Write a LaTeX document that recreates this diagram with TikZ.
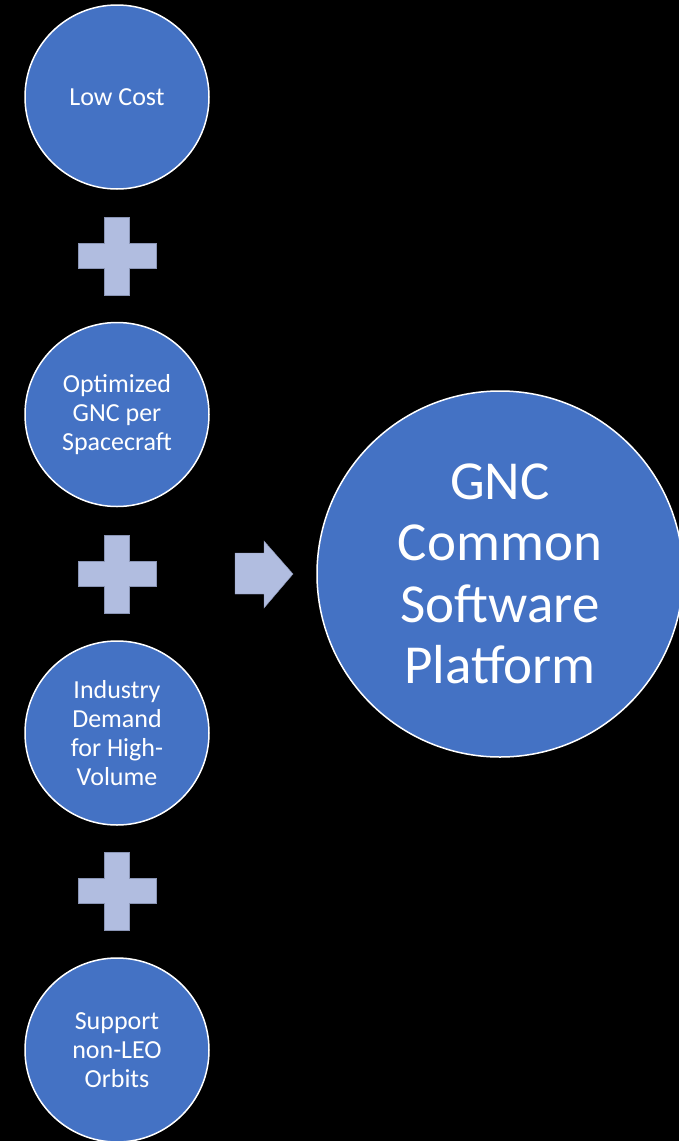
\documentclass[tikz,border=0pt]{standalone}
\usepackage{fontspec}
\setmainfont{Carlito}
\definecolor{circblue}{HTML}{4472C4}
\definecolor{signblue}{HTML}{B1BDE0}
\definecolor{signedge}{HTML}{8A95B5}
\tikzset{
  smallcirc/.style={circle, draw=white, line width=1.5pt, fill=circblue,
    minimum size=184pt, inner sep=0pt, text=white, align=center,
    font=\fontsize{26}{29}\selectfont},
  bigcirc/.style={circle, draw=white, line width=1.5pt, fill=circblue,
    minimum size=366pt, inner sep=0pt, text=white, align=center,
    font=\fontsize{55}{61.5}\selectfont},
  signshape/.style={fill=signblue, draw=signedge, line width=0.4pt},
  plussign/.pic={
    \path[signshape] (-12.5,-39) -- (12.5,-39) -- (12.5,-12.5) -- (39,-12.5)
      -- (39,12.5) -- (12.5,12.5) -- (12.5,39) -- (-12.5,39) -- (-12.5,12.5)
      -- (-39,12.5) -- (-39,-12.5) -- (-12.5,-12.5) -- cycle;
  }
}
\begin{document}
\begin{tikzpicture}[x=1pt, y=-1pt]
  % black page
  \fill[black] (0,0) rectangle (679,1141);
  \useasboundingbox (0,0) rectangle (679,1141);

  % the four ingredients
  \node[smallcirc] (cost)   at (117,97)   {Low Cost};
  \node[smallcirc] (optgnc) at (117,414.5) {Optimized\\GNC per\\Spacecraft};
  \node[smallcirc] (demand) at (117,733)  {Industry\\Demand\\for High-\\Volume};
  \node[smallcirc] (orbits) at (117,1050) {Support\\non-LEO\\Orbits};

  % plus signs between them
  \pic (plusA) at (117,256) {plussign};
  \pic (plusB) at (117,574) {plussign};
  \pic (plusC) at (117,891) {plussign};

  % arrow towards the result
  \path[signshape] (235,553) -- (264,553) -- (264,541) -- (293,574)
    -- (264,608) -- (264,594) -- (235,594) -- cycle;

  % the result
  \node[bigcirc] (platform) at (500,574) {GNC\\Common\\Software\\Platform};
\end{tikzpicture}
\end{document}
